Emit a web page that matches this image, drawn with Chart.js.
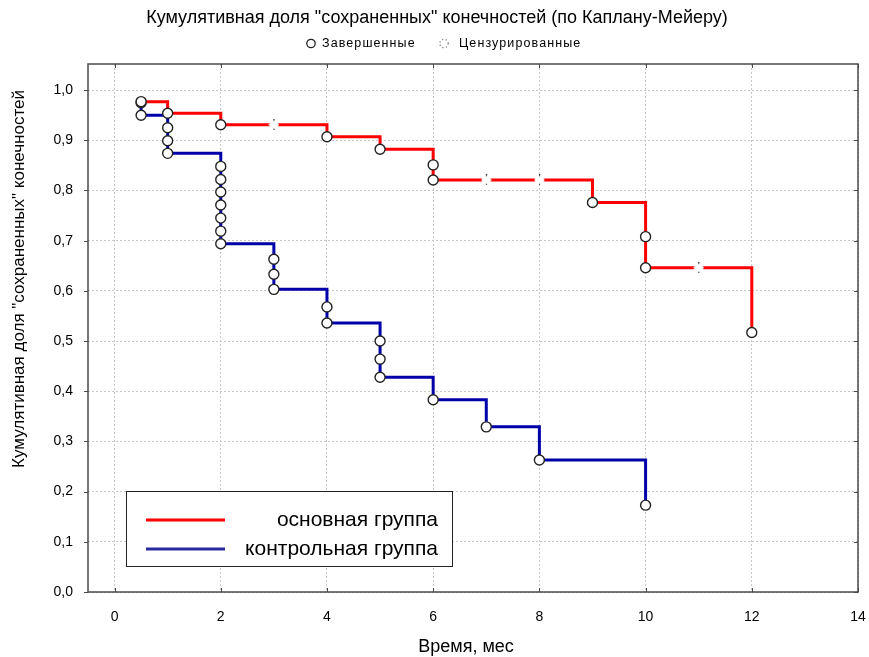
<!DOCTYPE html>
<html>
<head>
<meta charset="utf-8">
<script src="https://cdn.jsdelivr.net/npm/chart.js@4.4.0/dist/chart.umd.min.js"></script>
<style>
  html, body { margin: 0; padding: 0; background: #fff; }
</style>
</head>
<body>
<canvas id="km" width="869" height="657"></canvas>
<script>
// texts
const titleText = 'Кумулятивная доля "сохраненных" конечностей (по Каплану-Мейеру)';
const yTitle = 'Кумулятивная доля "сохраненных" конечностей';
const xTitle = 'Время, мес';
const seriesNames = ['основная группа', 'контрольная группа'];
const markerNames = ['Завершенные', 'Цензурированные'];

// axes
const xTicks = [0, 2, 4, 6, 8, 10, 12, 14];
const yTicks = [0, 0.1, 0.2, 0.3, 0.4, 0.5, 0.6, 0.7, 0.8, 0.9, 1.0];

// основная группа: events (time, survival after event)
const mainTimes = [0.5, 1, 2, 4, 5, 6, 6, 9, 10, 10, 12];
const mainSurv  = [0.977, 0.954, 0.931, 0.907, 0.882, 0.851, 0.821, 0.776, 0.708, 0.646, 0.517];
// основная группа: censored
const mainCensTimes = [3, 7, 8, 11];
const mainCensSurv  = [0.931, 0.821, 0.821, 0.646];

// контрольная группа: events
const ctrlTimes = [0.5, 0.5, 1, 1, 1, 2, 2, 2, 2, 2, 2, 2, 3, 3, 3, 4, 4, 5, 5, 5, 6, 7, 8, 10];
const ctrlSurv  = [0.975, 0.950, 0.925, 0.899, 0.874, 0.848, 0.822, 0.797, 0.771, 0.745, 0.719, 0.694,
                   0.663, 0.633, 0.603, 0.568, 0.536, 0.500, 0.464, 0.428, 0.383, 0.329, 0.263, 0.173];

const RED = '#ff0000';
const BLUE = '#0000a8';
const FONT = '"Liberation Sans", Arial, sans-serif';

function pts(xs, ys) {
  return xs.map((x, i) => ({ x: x, y: ys[i] }));
}

// censored mark: white gap with faint dots
function censMark() {
  const c = document.createElement('canvas');
  c.width = 11; c.height = 11;
  const g = c.getContext('2d');
  g.fillStyle = '#fff';
  g.beginPath(); g.arc(5.5, 5.5, 4.6, 0, Math.PI * 2); g.fill();
  g.fillStyle = '#222';
  g.fillRect(5, 0, 1.2, 1.5);
  g.fillRect(5, 9.5, 1.2, 1.5);
  g.fillStyle = '#bbb';
  g.fillRect(0, 5, 1, 1);
  g.fillRect(10, 5, 1, 1);
  return c;
}
const censImg = censMark();

const decor = {
  id: 'decor',
  afterDraw(chart) {
    const ctx = chart.ctx;
    const a = chart.chartArea;
    const xs = chart.scales.x, ys = chart.scales.y;
    ctx.save();

    // frame
    ctx.strokeStyle = '#4a4a4a';
    ctx.lineWidth = 1.5;
    ctx.strokeRect(a.left, a.top, a.right - a.left, a.bottom - a.top);

    // small ticks
    ctx.lineWidth = 1;
    ctx.beginPath();
    xTicks.forEach(v => {
      const p = Math.round(xs.getPixelForValue(v)) + 0.5;
      ctx.moveTo(p, a.bottom); ctx.lineTo(p, a.bottom - 4);
      ctx.moveTo(p, a.top); ctx.lineTo(p, a.top + 4);
    });
    yTicks.forEach(v => {
      const p = Math.round(ys.getPixelForValue(v)) + 0.5;
      ctx.moveTo(a.left, p); ctx.lineTo(a.left - 4, p);
      ctx.moveTo(a.right, p); ctx.lineTo(a.right - 4, p);
    });
    ctx.stroke();

    // title
    ctx.fillStyle = '#000';
    ctx.textBaseline = 'middle';
    ctx.textAlign = 'center';
    ctx.font = '18px ' + FONT;
    ctx.fillText(titleText, 437, 18);

    // marker key
    ctx.font = '12.5px ' + FONT;
    ctx.letterSpacing = '1.1px';
    ctx.textAlign = 'left';
    ctx.strokeStyle = '#222';
    ctx.lineWidth = 1.3;
    ctx.beginPath(); ctx.arc(311, 43.5, 4.2, 0, Math.PI * 2); ctx.stroke();
    ctx.fillText(markerNames[0], 322, 44);
    ctx.setLineDash([1, 2.5]);
    ctx.strokeStyle = '#666';
    ctx.beginPath(); ctx.arc(444, 43.5, 4.2, 0, Math.PI * 2); ctx.stroke();
    ctx.setLineDash([]);
    ctx.fillText(markerNames[1], 459, 44);
    ctx.letterSpacing = '0px';

    // axis titles
    ctx.textAlign = 'center';
    ctx.font = '18px ' + FONT;
    ctx.fillText(xTitle, 466, 647);
    ctx.save();
    ctx.translate(19, 279);
    ctx.rotate(-Math.PI / 2);
    ctx.font = '17px ' + FONT;
    ctx.fillText(yTitle, 0, 0);
    ctx.restore();

    // series legend box
    ctx.fillStyle = '#fff';
    ctx.fillRect(126, 491, 327, 76);
    ctx.strokeStyle = '#222';
    ctx.lineWidth = 1;
    ctx.strokeRect(126.5, 491.5, 326, 75);
    ctx.lineWidth = 3;
    ctx.strokeStyle = RED;
    ctx.beginPath(); ctx.moveTo(146, 520); ctx.lineTo(225, 520); ctx.stroke();
    ctx.strokeStyle = '#2a2aa0';
    ctx.beginPath(); ctx.moveTo(146, 549); ctx.lineTo(225, 549); ctx.stroke();
    ctx.fillStyle = '#000';
    ctx.textAlign = 'right';
    ctx.font = '21px ' + FONT;
    ctx.fillText(seriesNames[0], 438, 520);
    ctx.fillText(seriesNames[1], 438, 549);

    ctx.restore();
  }
};

new Chart(document.getElementById('km'), {
  type: 'scatter',
  data: {
    datasets: [
      {
        label: seriesNames[1],
        data: pts(ctrlTimes, ctrlSurv),
        showLine: true,
        stepped: 'before',
        borderColor: BLUE,
        borderWidth: 3,
        pointRadius: 5,
        pointBackgroundColor: '#fff',
        pointBorderColor: '#222',
        pointBorderWidth: 1.4,
        order: 3
      },
      {
        label: seriesNames[0],
        data: pts(mainTimes, mainSurv),
        showLine: true,
        stepped: 'before',
        borderColor: RED,
        borderWidth: 3,
        pointRadius: 5,
        pointBackgroundColor: '#fff',
        pointBorderColor: '#222',
        pointBorderWidth: 1.4,
        order: 2
      },
      {
        label: markerNames[1],
        data: pts(mainCensTimes, mainCensSurv),
        pointStyle: censImg,
        pointRadius: 5,
        order: 1
      }
    ]
  },
  options: {
    responsive: false,
    animation: false,
    devicePixelRatio: 1,
    layout: { padding: { left: 0, top: 64, right: 11, bottom: 0 } },
    plugins: {
      legend: { display: false },
      tooltip: { enabled: false }
    },
    scales: {
      x: {
        type: 'linear',
        min: -0.5,
        max: 14,
        afterBuildTicks: s => { s.ticks = xTicks.map(v => ({ value: v })); },
        afterFit: s => { s.height = 65; s.paddingLeft = 0; s.paddingRight = 0; },
        grid: { color: '#c8c8c8', lineWidth: 1, drawTicks: false },
        border: { display: false, dash: [2, 2] },
        ticks: {
          padding: 17,
          color: '#000',
          font: { family: FONT, size: 14 },
          maxRotation: 0
        }
      },
      y: {
        type: 'linear',
        min: 0,
        max: 1.052,
        afterBuildTicks: s => { s.ticks = yTicks.map(v => ({ value: v })); },
        afterFit: s => { s.width = 88; },
        grid: { color: '#c8c8c8', lineWidth: 1, drawTicks: false },
        border: { display: false, dash: [2, 2] },
        ticks: {
          padding: 15,
          color: '#000',
          font: { family: FONT, size: 14 },
          callback: v => v.toFixed(1).replace('.', ',')
        }
      }
    }
  },
  plugins: [decor]
});
</script>
</body>
</html>
